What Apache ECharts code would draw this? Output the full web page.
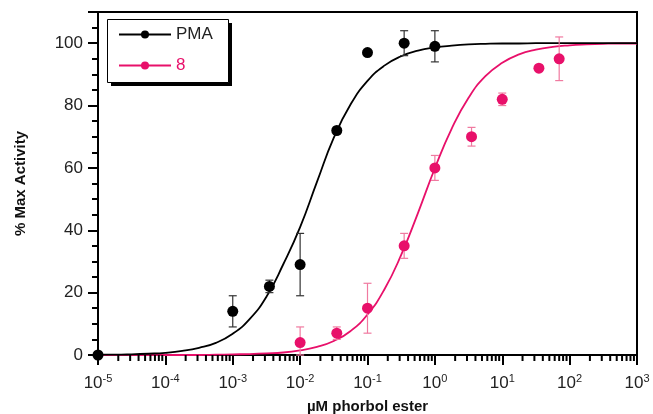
<!DOCTYPE html>
<html>
<head>
<meta charset="utf-8">
<script src="https://cdn.jsdelivr.net/npm/echarts@6/dist/echarts.min.js"></script>
<style>
  html, body { margin: 0; padding: 0; background: #fff; }
  #main { width: 653px; height: 414px; }
</style>
</head>
<body>
<div id="main"></div>
<script>
// measured points (µM, % max activity, +/- error)
var pmaX = [0.00001, 0.001, 0.0035, 0.01, 0.035, 0.1, 0.35, 1];
var pmaY = [0, 14, 22, 29, 72, 97, 100, 99];
var pmaErr = [0, 5, 2, 10, 0, 0, 4, 5];

var c8X = [0.01, 0.035, 0.1, 0.35, 1, 3.5, 10, 35, 70];
var c8Y = [4, 7, 15, 35, 60, 70, 82, 92, 95];
var c8Err = [5, 2, 8, 4, 4, 3, 2, 0, 7];

// fitted curves, every quarter decade from 1e-5 to 1e3
var curveX = [];
for (var e = -20; e <= 12; e++) curveX.push(Math.pow(10, e / 4));
var pmaFit = [0.1, 0.1, 0.2, 0.4, 0.7, 1.3, 2.3, 3.9, 6.8, 11.5, 18.7, 29.1, 41.0, 55.5, 69.7, 80.4,
  87.9, 92.8, 95.8, 97.6, 98.6, 99.2, 99.6, 99.8, 99.9, 99.9, 100, 100, 100, 100, 100, 100, 100];
var c8Fit = [0, 0, 0, 0, 0, 0, 0, 0.1, 0.2, 0.3, 0.5, 0.8, 1.5, 2.6, 4.5, 7.7,
  13.0, 21.0, 32.1, 45.6, 59.9, 72.6, 82.5, 89.4, 93.7, 96.4, 97.9, 98.8, 99.3, 99.6, 99.8, 99.9, 99.9];

var black = '#000000';
var pink = '#e8106a';

function zip(xs, ys) {
  return xs.map(function (x, i) { return [x, ys[i]]; });
}

// minor ticks at 2..9 of each decade
var minorX = [];
for (var d = -5; d < 3; d++) {
  for (var m = 2; m <= 9; m++) minorX.push(m * Math.pow(10, d));
}

function errBars(xs, ys, errs, color) {
  return {
    type: 'custom',
    silent: true,
    z: 3,
    data: xs.map(function (x, i) { return [x, ys[i], errs[i]]; }),
    renderItem: function (params, api) {
      var x = api.value(0), y = api.value(1), er = api.value(2);
      if (!er) return null;
      var top = api.coord([x, y + er]);
      var bot = api.coord([x, Math.max(0, y - er)]);
      var w = 4;
      var st = { stroke: color, lineWidth: 1.2 };
      return {
        type: 'group',
        children: [
          { type: 'line', shape: { x1: top[0], y1: top[1], x2: bot[0], y2: bot[1] }, style: st },
          { type: 'line', shape: { x1: top[0] - w, y1: top[1], x2: top[0] + w, y2: top[1] }, style: st },
          { type: 'line', shape: { x1: bot[0] - w, y1: bot[1], x2: bot[0] + w, y2: bot[1] }, style: st }
        ]
      };
    }
  };
}

var myChart = echarts.init(document.getElementById('main'));
var option = {
  backgroundColor: '#fff',
  animation: false,
  textStyle: { fontFamily: 'Liberation Sans, Arial, sans-serif' },
  grid: {
    left: 98, right: 16, top: 12, bottom: 59,
    outerBoundsMode: 'none',
    containLabel: false,
    show: true, borderColor: '#000', borderWidth: 2
  },
  // legend frame with its hard drop shadow
  graphic: [
    { type: 'rect', z: 90, silent: true, shape: { x: 111, y: 23, width: 121, height: 63 }, style: { fill: '#000' } },
    { type: 'rect', z: 91, silent: true, shape: { x: 107.5, y: 19.5, width: 121, height: 63 }, style: { fill: '#fff', stroke: '#000', lineWidth: 1 } }
  ],
  legend: {
    left: 118, top: 26,
    z: 100,
    orient: 'vertical',
    data: ['PMA', '8'],
    itemWidth: 52, itemHeight: 10,
    itemGap: 14,
    padding: 0,
    textStyle: { fontSize: 17, color: '#222' },
    formatter: function (n) { return n === '8' ? '{p|8}' : '{k|PMA}'; },
    selectedMode: false
  },
  xAxis: {
    type: 'log',
    logBase: 10,
    min: 0.00001, max: 1000,
    interval: 1,
    name: 'µM phorbol ester',
    nameLocation: 'middle',
    nameGap: 44,
    nameTextStyle: { fontSize: 15, fontWeight: 'bold', color: '#111' },
    axisLine: { lineStyle: { color: '#000', width: 2 } },
    axisTick: { length: 10, lineStyle: { color: '#000', width: 2 } },
    splitLine: { show: false },
    axisLabel: {
      margin: 18,
      color: '#222',
      formatter: function (v) {
        return '{b|10}{s|' + Math.round(Math.log10(v)) + '}';
      },
      rich: {
        b: { fontSize: 17, color: '#222' },
        s: { fontSize: 11, color: '#222', padding: [0, 0, 10, 0] }
      }
    }
  },
  yAxis: {
    type: 'value',
    min: 0, max: 110, interval: 20,
    name: '% Max Activity',
    nameLocation: 'middle',
    nameGap: 70,
    nameTextStyle: { fontSize: 15, fontWeight: 'bold', color: '#111' },
    axisLine: { show: true, lineStyle: { color: '#000', width: 2 } },
    axisTick: { show: true, length: 10, lineStyle: { color: '#000', width: 2 } },
    minorTick: { show: true, splitNumber: 4, length: 6, lineStyle: { color: '#000', width: 2 } },
    splitLine: { show: false },
    axisLabel: { fontSize: 17, color: '#222', margin: 15, showMaxLabel: false }
  },
  series: [
    {
      name: 'PMA', type: 'line',
      data: zip(curveX, pmaFit),
      smooth: true, showSymbol: false,
      symbol: 'circle', symbolSize: 10,
      itemStyle: { color: black },
      lineStyle: { color: black, width: 1.8 },
      z: 2
    },
    {
      name: '8', type: 'line',
      data: zip(curveX, c8Fit),
      smooth: true, showSymbol: false,
      symbol: 'circle', symbolSize: 10,
      itemStyle: { color: pink },
      lineStyle: { color: pink, width: 1.8 },
      z: 1
    },
    errBars(pmaX, pmaY, pmaErr, '#333'),
    errBars(c8X, c8Y, c8Err, '#f07aa0'),
    {
      name: 'PMA', type: 'scatter', clip: false,
      data: zip(pmaX, pmaY), symbolSize: 11,
      itemStyle: { color: black, opacity: 1 }, z: 4
    },
    {
      name: '8', type: 'scatter', clip: false,
      data: zip(c8X, c8Y), symbolSize: 11,
      itemStyle: { color: pink, opacity: 1 }, z: 4
    },
    {
      type: 'custom', silent: true, clip: false,
      data: minorX.map(function (x) { return [x, 0]; }),
      renderItem: function (params, api) {
        var p = api.coord([api.value(0), 0]);
        return {
          type: 'line',
          shape: { x1: p[0], y1: p[1], x2: p[0], y2: p[1] + 6 },
          style: { stroke: '#000', lineWidth: 2 }
        };
      }
    }
  ]
};
option.legend.textStyle.rich = {
  k: { fontSize: 17, color: '#222' },
  p: { fontSize: 17, color: pink }
};
myChart.setOption(option);
</script>
</body>
</html>
